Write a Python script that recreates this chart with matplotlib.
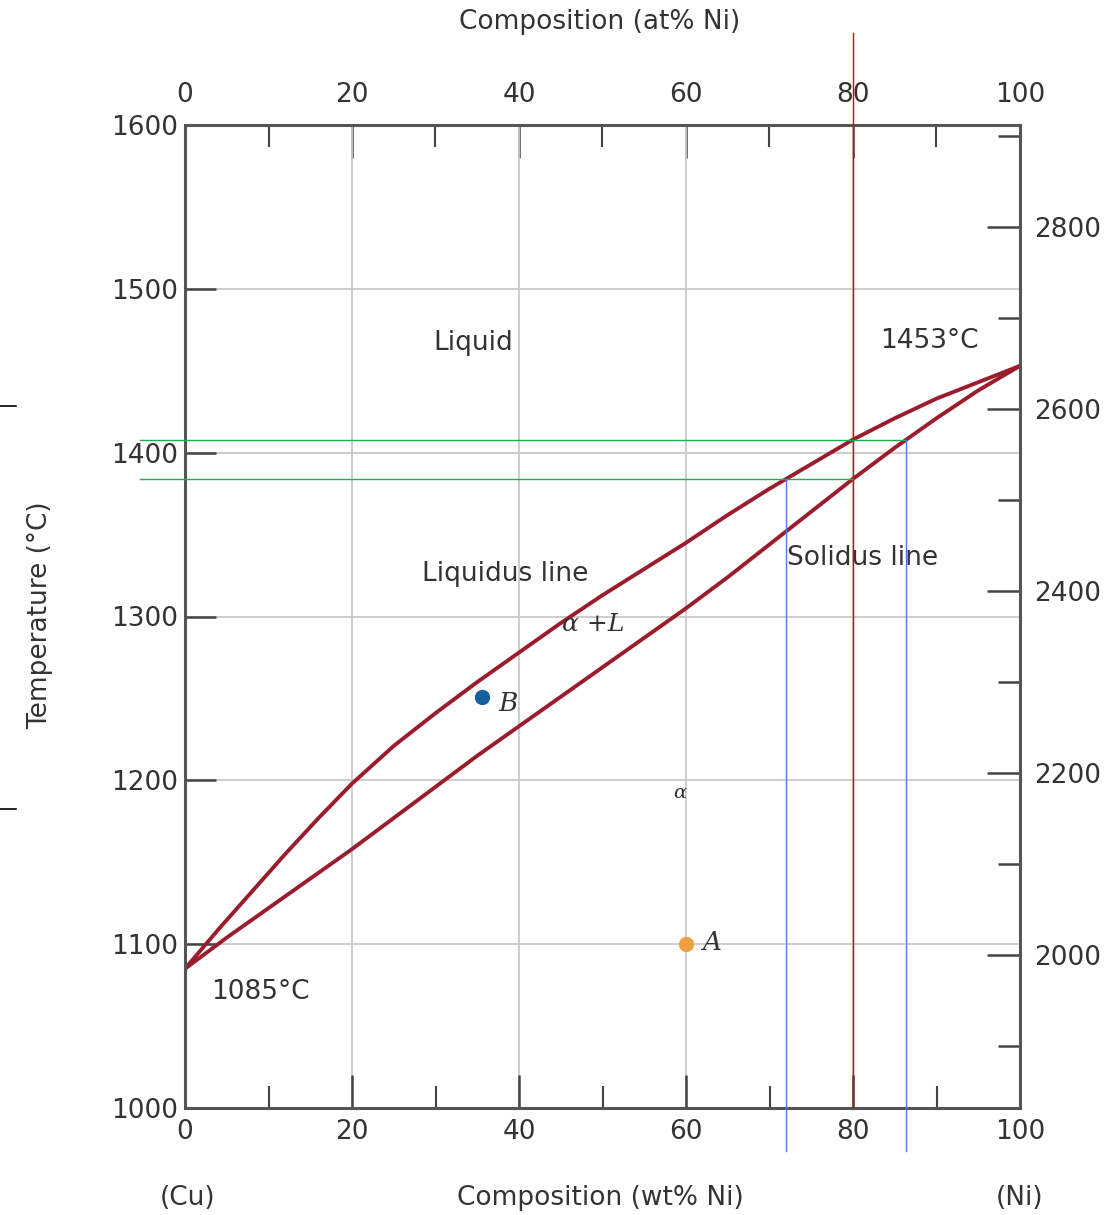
import numpy as np
import matplotlib
matplotlib.use("Agg")
import matplotlib.pyplot as plt
from matplotlib.lines import Line2D
from matplotlib.ticker import FixedLocator

# ── Data ──────────────────────────────────────────────────────────────────────
liq_wt   = [0, 4, 8, 12, 16, 20, 25, 30, 35, 40, 45, 50, 55, 60, 65, 70, 75, 80, 85, 90, 95, 100]
liquidus = [1085, 1109, 1132, 1155, 1177, 1198, 1221, 1241, 1260, 1278, 1296, 1313,
            1329, 1345, 1362, 1378, 1393, 1408, 1421, 1433, 1443, 1453]
sol_wt   = [0, 5, 10, 15, 20, 25, 30, 35, 40, 45, 50, 55, 60, 65, 70, 75, 80, 85, 90, 95, 100]
solidus  = [1085, 1104, 1122, 1140, 1158, 1177, 1196, 1215, 1233, 1251, 1269, 1287,
            1305, 1324, 1344, 1364, 1384, 1403, 1421, 1438, 1453]

point_a = (60, 1100)
point_b = (35.6, 1251)
c0 = 80            # overall composition marked by the red line

wt_major = [0, 20, 40, 60, 80, 100]
wt_minor = [10, 30, 50, 70, 90]
C_major  = [1000, 1100, 1200, 1300, 1400, 1500, 1600]
F_major  = [2000, 2200, 2400, 2600, 2800]
F_minor  = [1900, 2100, 2300, 2500, 2700, 2900]

CURVE = "#9b1c2c"
GRID  = "#c9c9c9"
TXT   = "#333333"

plt.rcParams.update({
    "font.family": "DejaVu Sans",
    "font.size": 19,
    "text.color": TXT,
    "xtick.color": "#444444",
    "ytick.color": "#444444",
    "xtick.labelcolor": TXT,
    "ytick.labelcolor": TXT,
})

fig = plt.figure(figsize=(11.1, 12.15), dpi=100)
ax = fig.add_axes([185/1110, 1 - 1108/1215, 835/1110, 983/1215])
ax.set_xlim(0, 100)
ax.set_ylim(1000, 1600)

for s in ax.spines.values():
    s.set_color("#555555")
    s.set_linewidth(2.2)

ax.xaxis.set_major_locator(FixedLocator(wt_major))
ax.xaxis.set_minor_locator(FixedLocator(wt_minor))
ax.yaxis.set_major_locator(FixedLocator(C_major))
ax.tick_params(axis="x", which="major", direction="in", length=24, width=1.8, pad=8)
ax.tick_params(axis="x", which="minor", direction="in", length=16, width=1.5)
ax.tick_params(axis="y", which="major", direction="in", length=22, width=1.8, pad=5)
ax.grid(True, which="major", color=GRID, lw=1.3)
ax.set_axisbelow(True)

# top axis (at% Ni) – same tick positions as in the reference
top = ax.secondary_xaxis("top")
top.xaxis.set_major_locator(FixedLocator(wt_major))
top.xaxis.set_minor_locator(FixedLocator(wt_minor))
top.tick_params(which="major", direction="in", length=24, width=1.8, pad=12)
top.tick_params(which="minor", direction="in", length=16, width=1.5)
top.spines["top"].set_visible(False)

# right axis (deg F)
right = ax.secondary_yaxis("right", functions=(lambda c: c * 9 / 5 + 32,
                                               lambda f: (f - 32) * 5 / 9))
right.yaxis.set_major_locator(FixedLocator(F_major))
right.yaxis.set_minor_locator(FixedLocator(F_minor))
right.tick_params(which="major", direction="in", length=24, width=1.8, pad=10)
right.tick_params(which="minor", direction="in", length=16, width=1.8)
right.spines["right"].set_visible(False)

# phase boundaries
ax.plot(liq_wt, liquidus, color=CURVE, lw=2.8, solid_capstyle="round", solid_joinstyle="round")
ax.plot(sol_wt, solidus, color=CURVE, lw=2.8, solid_capstyle="round", solid_joinstyle="round")

ax.plot(*point_b, "o", color="#15609b", ms=10)
ax.plot(*point_a, "o", color="#f0a040", ms=10)

# tie-line construction at the red composition
t_liq = np.interp(c0, liq_wt, liquidus)
t_sol = np.interp(c0, sol_wt, solidus)
x_sol_hi = np.interp(t_liq, solidus, sol_wt)
x_liq_lo = np.interp(t_sol, liquidus, liq_wt)
x_left = -5.4
t_bottom = 974

ax.plot([c0, c0], [1000, 1656], color="#e00000", lw=1.0, clip_on=False, zorder=5)
ax.plot([x_left, x_sol_hi], [t_liq, t_liq], color="#1fae4e", lw=1.0, clip_on=False, zorder=5)
ax.plot([x_left, c0], [t_sol, t_sol], color="#1fae4e", lw=1.0, clip_on=False, zorder=5)
ax.plot([x_liq_lo, x_liq_lo], [t_sol, t_bottom], color="#4a7fd8", lw=1.0, clip_on=False, zorder=5)
ax.plot([x_sol_hi, x_sol_hi], [t_liq, t_bottom], color="#4a7fd8", lw=1.0, clip_on=False, zorder=5)

# short black marks on the far left
for yp in (406, 809):
    fig.add_artist(Line2D([0, 16/1110], [1 - yp/1215, 1 - yp/1215], color="black", lw=1.2))

# region labels
ax.text(34.5, 1467, "Liquid", ha="center", va="center")
ax.text(89.2, 1468, "1453\u00b0C", ha="center", va="center")
ax.text(38.4, 1326, "Liquidus line", ha="center", va="center")
ax.text(81.2, 1336, "Solidus line", ha="center", va="center")
serif = dict(ha="center", va="center", family="DejaVu Serif", fontstyle="italic")
ax.text(48.9, 1295, "\u03b1 +L", fontsize=18, **serif)
ax.text(38.7, 1247, "B", fontsize=19, **serif)
ax.text(59.3, 1192, "\u03b1", fontsize=14, **serif)
ax.text(63.1, 1101, "A", fontsize=19, **serif)
ax.text(9.0, 1071, "1085\u00b0C", ha="center", va="center")

# axis titles
fig.text(600/1110, 1 - 22/1215, "Composition (at% Ni)", ha="center", va="center")
fig.text(600/1110, 1 - 1198/1215, "Composition (wt% Ni)", ha="center", va="center")
fig.text(188/1110, 1 - 1198/1215, "(Cu)", ha="center", va="center")
fig.text(1020/1110, 1 - 1198/1215, "(Ni)", ha="center", va="center")
fig.text(40/1110, 1 - 615/1215, "Temperature (\u00b0C)", ha="center", va="center",
         rotation=90)

fig.savefig("out.png", dpi=100, facecolor="white")
